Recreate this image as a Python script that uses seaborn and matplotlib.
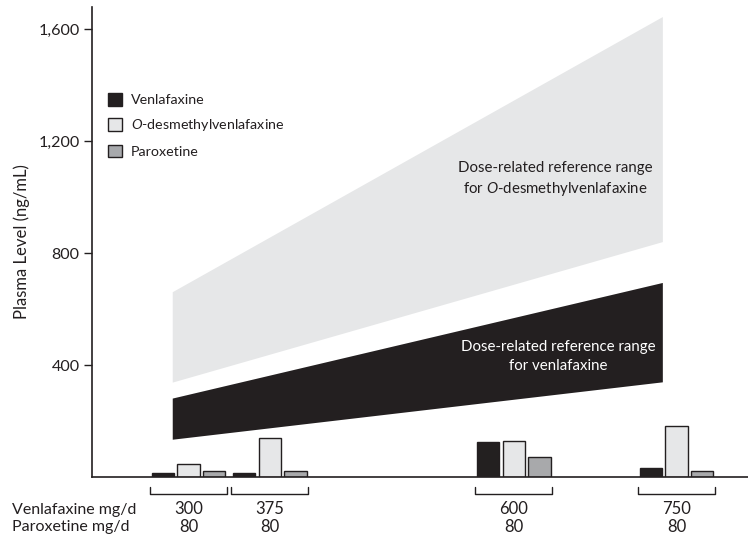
import matplotlib
matplotlib.use("Agg")
import matplotlib.pyplot as plt
import matplotlib.transforms as mtransforms
from matplotlib.patches import Patch
import numpy as np
import pandas as pd
import seaborn as sns

# ---------------- data ----------------
venlafaxine_doses = [300, 375, 600, 750]          # mg/d
paroxetine_doses = [80, 80, 80, 80]               # mg/d
venlafaxine_levels = [13, 14, 124, 33]            # ng/mL
odv_levels = [46, 138, 129, 184]                  # ng/mL
paroxetine_levels = [20, 20, 70, 20]              # ng/mL

series_names = ["Venlafaxine", "O-desmethylvenlafaxine", "Paroxetine"]

range_doses = [285, 737]
ven_range_low = [135, 340]
ven_range_high = [282, 695]
odv_range_low = [339, 841]
odv_range_high = [662, 1645]

y_ticks = [400, 800, 1200, 1600]
y_tick_labels = ["400", "800", "1,200", "1,600"]

# ---------------- style ----------------
INK = "#231f20"
LIGHT = "#e6e7e8"
GREY = "#a7a9ac"
colors = [INK, LIGHT, GREY]

sns.set_theme(style="white")
plt.rcParams["font.family"] = ["Lato", "DejaVu Sans"]
plt.rcParams["mathtext.fontset"] = "custom"
plt.rcParams["mathtext.rm"] = "Lato"
plt.rcParams["mathtext.it"] = "Lato:italic"
plt.rcParams["text.color"] = INK

df = pd.DataFrame({
    "dose": venlafaxine_doses * 3,
    "drug": [series_names[0]] * 4 + [series_names[1]] * 4 + [series_names[2]] * 4,
    "level": venlafaxine_levels + odv_levels + paroxetine_levels,
})

fig = plt.figure(figsize=(7.48, 5.35), dpi=100)
ax = fig.add_axes([0.123, 0.1084, 0.877, 0.879])

# reference bands
ax.fill_between(range_doses, odv_range_low, odv_range_high, color=LIGHT, lw=0, zorder=0)
ax.fill_between(range_doses, ven_range_low, ven_range_high, color=INK, lw=0, zorder=0)

WIDTH = 0.947
sns.barplot(data=df, x="dose", y="level", hue="drug", hue_order=series_names,
            palette=colors, native_scale=True, width=WIDTH, gap=0.13,
            edgecolor=INK, linewidth=1.0, errorbar=None, legend=False, ax=ax,
            zorder=2)

ax.set_xlim(211, 816)
ax.set_ylim(0, 1680)
ax.set_xticks([])
ax.set_xlabel("")
ax.set_yticks(y_ticks)
ax.set_yticklabels(y_tick_labels)
ax.tick_params(axis="y", left=True, length=6, width=1, color=INK,
               labelsize=11.6, labelcolor=INK, pad=3)
ax.set_ylabel("Plasma Level (ng/mL)", fontsize=12, color=INK, labelpad=6)
for s in ["top", "right"]:
    ax.spines[s].set_visible(False)
for s in ["left", "bottom"]:
    ax.spines[s].set_color(INK)
    ax.spines[s].set_linewidth(1.2)

# band labels
ax.text(638, 1064, "Dose-related reference range\nfor $\\it{O}$-desmethylvenlafaxine",
        ha="center", va="center", fontsize=10.8, color=INK, linespacing=1.4)
ax.text(641, 432, "Dose-related reference range\nfor venlafaxine",
        ha="center", va="center", fontsize=10.8, color="white", linespacing=1.45)

# brackets & dose labels
trans = mtransforms.blended_transform_factory(ax.transData, ax.transAxes)
half = WIDTH * (venlafaxine_doses[1] - venlafaxine_doses[0]) / 2
yb, yt = -0.036, -0.021
for d, p in zip(venlafaxine_doses, paroxetine_doses):
    ax.plot([d - half, d - half, d + half, d + half], [yt, yb, yb, yt],
            color=INK, lw=1.0, transform=trans, clip_on=False)
    ax.text(d, -0.069, str(d), ha="center", va="center", fontsize=12,
            color=INK, transform=trans)
    ax.text(d, -0.107, str(p), ha="center", va="center", fontsize=12,
            color=INK, transform=trans)

fig.text(12 / 748, 1 - 510 / 535, "Venlafaxine mg/d", ha="left", va="center",
         fontsize=11.5, color=INK)
fig.text(12 / 748, 1 - 527 / 535, "Paroxetine mg/d", ha="left", va="center",
         fontsize=11.5, color=INK)

# legend
handles = [Patch(facecolor=c, edgecolor=INK, linewidth=1.0) for c in colors]
labels = ["Venlafaxine", "$\\it{O}$-desmethylvenlafaxine", "Paroxetine"]
ax.legend(handles, labels, loc="upper left",
          bbox_to_anchor=(108 / 748, 1 - 93 / 535), bbox_transform=fig.transFigure,
          frameon=False, fontsize=10.3, borderpad=0, borderaxespad=0,
          handlelength=1.0, handleheight=1.0, handletextpad=0.6,
          labelspacing=0.78)

fig.savefig("out.png", dpi=100)
